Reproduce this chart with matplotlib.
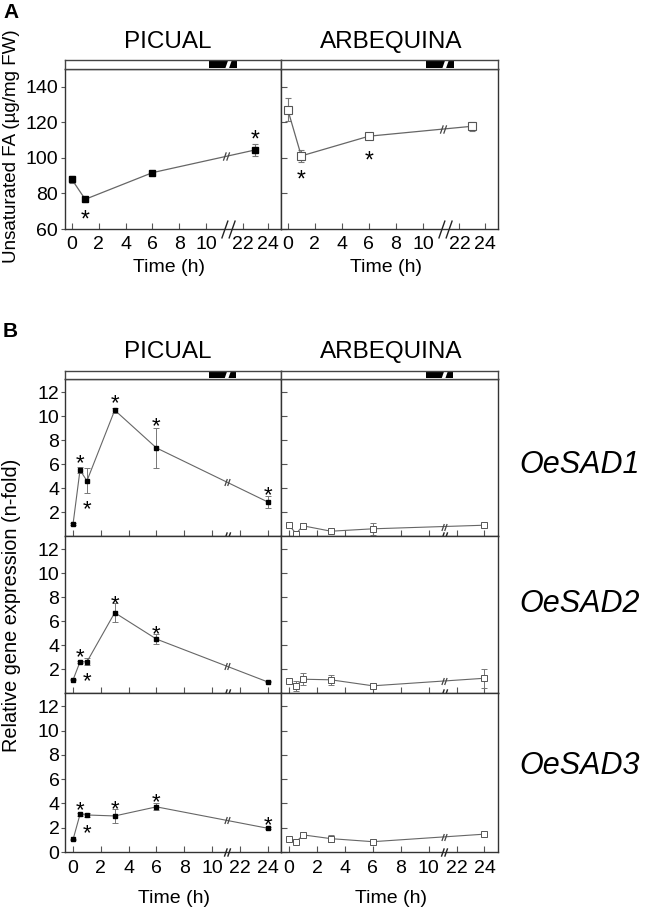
import matplotlib
matplotlib.use('Agg')
import matplotlib.pyplot as plt
import matplotlib.transforms as mtransforms
from matplotlib.path import Path
import numpy as np

plt.rcParams['font.family'] = ['Liberation Sans', 'DejaVu Sans']

W, H = 649, 913
fig = plt.figure(figsize=(W / 100, H / 100), dpi=100)

# ---------------- data ----------------
tick_hours = [0, 2, 4, 6, 8, 10, 22, 24]
cultivars = ['PICUAL', 'ARBEQUINA']

# Panel A: unsaturated fatty acids (ug/mg FW)
a_time = [0, 1, 6, 23]
a_pic = [88.0, 76.7, 91.7, 104.5]
a_pic_err = [2.0, 1.5, 1.0, 3.5]
a_arb = [127.2, 101.1, 112.2, 117.8]
a_arb_err = [6.5, 3.5, 1.0, 2.5]
a_pic_star_idx = [1, 3]
a_pic_star_y = [68.6, 113.7]
a_arb_star_idx = [1, 2]
a_arb_star_y = [91.0, 102.0]
a_yticks = [60, 80, 100, 120, 140]

# Panel B: relative gene expression (n-fold)
b_time = [0, 0.5, 1, 3, 6, 24]
genes = ['OeSAD1', 'OeSAD2', 'OeSAD3']
b_pic = [
    [1.0, 5.5, 4.6, 10.5, 7.35, 2.85],
    [1.1, 2.6, 2.6, 6.7, 4.5, 0.93],
    [1.03, 3.1, 3.05, 2.97, 3.72, 1.96],
]
b_pic_err = [
    [0.05, 0.25, 1.05, 0.2, 1.7, 0.5],
    [0.05, 0.1, 0.3, 0.8, 0.4, 0.05],
    [0.05, 0.1, 0.2, 0.6, 0.3, 0.1],
]
b_arb = [
    [0.9, 0.2, 0.85, 0.4, 0.6, 0.9],
    [1.0, 0.6, 1.15, 1.1, 0.6, 1.23],
    [1.09, 0.82, 1.41, 1.1, 0.85, 1.47],
]
b_arb_err = [
    [0.05, 0.1, 0.15, 0.1, 0.5, 0.1],
    [0.05, 0.4, 0.5, 0.4, 0.05, 0.8],
    [0.05, 0.05, 0.1, 0.3, 0.05, 0.1],
]
b_star_idx = [
    [1, 2, 3, 4, 5],
    [1, 2, 3, 4],
    [1, 2, 3, 4, 5],
]
b_star_y = [
    [6.6, 2.8, 11.6, 9.7, 4.0],
    [3.55, 1.55, 8.0, 5.5],
    [4.0, 2.06, 4.1, 4.65, 2.75],
]
b_yticks = [0, 2, 4, 6, 8, 10, 12]

# ---------------- helpers ----------------
SPINE = '#333333'
LINE = '#666666'
ERR = '#777777'


def rect(l, t, r, b):
    return [l / W, 1 - b / H, (r - l) / W, (b - t) / H]


def xa(t):
    t = np.asarray(t, float)
    return np.where(t <= 11, t, 12.7 + (t - 22) * 0.95)


def xb(t):
    t = np.asarray(t, float)
    return np.where(t <= 11, t, t - 10)


BRK_PATH = Path([(-0.75, -1), (-0.05, 1), (0.05, -1), (0.75, 1)],
                [Path.MOVETO, Path.LINETO, Path.MOVETO, Path.LINETO])


def brk(ax, x, y, size, lw=1.0, color='#222222', transform=None):
    ax.plot([x], [y], marker=BRK_PATH, markersize=size, mew=lw,
            color=color, linestyle='none', clip_on=False, zorder=6,
            transform=transform if transform is not None else ax.transData)


def star(ax, x, y, fs):
    tr = mtransforms.offset_copy(ax.transData, fig=fig, x=0, y=-0.57 * fs,
                                 units='points')
    ax.text(x, y, '*', fontsize=fs, ha='center', va='baseline',
            transform=tr, zorder=7)


def style_axes(ax, xl, ylim, yticks, left_panel, show_xlabels, show_ylabels,
               xmap, tick_fs=14, xpad=4, ypad=2):
    ax.set_xlim(*xl)
    ax.set_ylim(*ylim)
    ax.set_xticks(xmap(tick_hours))
    ax.set_xticklabels([str(h) for h in tick_hours] if show_xlabels else [])
    ax.set_yticks(yticks)
    for s in ax.spines.values():
        s.set_color(SPINE)
        s.set_linewidth(1.0)
    ax.tick_params(axis='x', direction='in', length=4, width=0.8,
                   color='#555555', labelsize=tick_fs, pad=xpad)
    if left_panel:
        ax.tick_params(axis='y', direction='out', length=3, width=0.8,
                       color='#555555', labelsize=tick_fs, pad=ypad)
    else:
        ax.tick_params(axis='y', direction='in', length=4, width=0.8,
                       color='#555555', labelsize=tick_fs, pad=ypad)
    if not show_ylabels:
        ax.set_yticklabels([])


def top_bar(l, t, r, b, xl, dark0, dark1, brkx, size):
    bx = fig.add_axes(rect(l, t, r, b))
    bx.set_xlim(*xl)
    bx.set_ylim(0, 1)
    bx.set_xticks([])
    bx.set_yticks([])
    for s in bx.spines.values():
        s.set_color('#444444')
        s.set_linewidth(1.0)
    bx.axvspan(dark0, dark1, ymin=0.12, ymax=0.88, color='black', lw=0)
    bx.plot([brkx], [0.5], marker=Path([(-0.35, -1), (0.35, 1)],
            [Path.MOVETO, Path.LINETO]), markersize=size, mew=2.5,
            color='white', linestyle='none')
    return bx


def line_break(ax, xs, ys, bx, size):
    xs = np.asarray(xs, float)
    ys = np.asarray(ys, float)
    for i in range(len(xs) - 1):
        if xs[i] < bx < xs[i + 1]:
            f = (bx - xs[i]) / (xs[i + 1] - xs[i])
            y = ys[i] + f * (ys[i + 1] - ys[i])
            brk(ax, bx, y, size, lw=0.9, color='#444444')


TITLE_FS = 17.5

# ---------------- panel A ----------------
A_XL = (-0.5, 15.55)
A_BRK = 11.6
a_cols = [(65, 281), (281, 498)]
a_series = [(a_pic, a_pic_err, a_pic_star_idx, a_pic_star_y, True),
            (a_arb, a_arb_err, a_arb_star_idx, a_arb_star_y, False)]
for k, ((l, r), (vals, errs, sidx, sy, filled)) in enumerate(zip(a_cols, a_series)):
    ax = fig.add_axes(rect(l, 69, r, 229))
    style_axes(ax, A_XL, (60, 150), a_yticks, k == 0, True, k == 0, xa,
               tick_fs=14, xpad=5, ypad=2)
    x = xa(a_time)
    ax.errorbar(x, vals, yerr=errs, fmt='none', ecolor=ERR, elinewidth=0.8,
                capsize=2.5, capthick=0.8, zorder=3)
    if filled:
        ax.plot(x, vals, '-s', color=LINE, lw=0.9, mfc='black', mec='black',
                ms=5.0, zorder=4)
    else:
        ax.plot(x, vals, '-s', color=LINE, lw=0.9, mfc='white', mec='#555555',
                mew=0.8, ms=5.5, zorder=4)
    line_break(ax, x, vals, A_BRK - 0.15, 6)
    for i, yy in zip(sidx, sy):
        star(ax, x[i], yy, 16.5)
    brk(ax, A_BRK, 0, 13, lw=1.0,
        transform=mtransforms.blended_transform_factory(ax.transData, ax.transAxes))
    top_bar(l, 60, r, 69, A_XL, 10.2, 12.3, A_BRK, 9)
    fig.text((l + r) / 2 / W - (5 if k == 0 else -2) / W, 1 - 48 / H, cultivars[k],
             fontsize=TITLE_FS, ha='center', va='baseline')
    fig.text((l + r) / 2 / W - (4 if k == 0 else 3) / W, 1 - 272 / H, 'Time (h)',
             fontsize=14, ha='center', va='baseline')

fig.text(12 / W, 1 - 146 / H, 'Unsaturated FA (µg/mg FW)', fontsize=13.5,
         rotation=90, ha='center', va='center')
fig.text(3 / W, 1 - 18 / H, 'A', fontsize=15, fontweight='bold',
         ha='left', va='baseline')

# ---------------- panel B ----------------
B_XL = (-0.58, 14.97)
B_BRK = 11.1
b_rows = [(379, 536), (536, 693), (693, 852)]
b_cols = [(65, 281), (281, 498)]
gene_baseline = [473, 612, 774]
for g in range(3):
    t, b = b_rows[g]
    for k, (l, r) in enumerate(b_cols):
        ax = fig.add_axes(rect(l, t, r, b))
        last = g == 2
        yt = b_yticks if last else b_yticks[1:]
        style_axes(ax, B_XL, (0, 13.1), yt, k == 0, last, k == 0, xb,
                   tick_fs=14, xpad=6, ypad=1)
        x = xb(b_time)
        if k == 0:
            vals, errs = b_pic[g], b_pic_err[g]
        else:
            vals, errs = b_arb[g], b_arb_err[g]
        ax.errorbar(x, vals, yerr=errs, fmt='none', ecolor=ERR, elinewidth=0.7,
                    capsize=2, capthick=0.7, zorder=3)
        if k == 0:
            ax.plot(x, vals, '-s', color=LINE, lw=0.8, mfc='black', mec='black',
                    ms=3.5, zorder=4)
            for i, yy in zip(b_star_idx[g], b_star_y[g]):
                star(ax, x[i], yy, 16)
        else:
            ax.plot(x, vals, '-s', color=LINE, lw=0.8, mfc='white',
                    mec='#555555', mew=0.7, ms=4, zorder=4)
        line_break(ax, x, vals, B_BRK, 5)
        brk(ax, B_BRK, 0, 6, lw=1.0,
            transform=mtransforms.blended_transform_factory(ax.transData, ax.transAxes))
        if g == 0:
            top_bar(l, 371, r, 379, B_XL, 9.8, 11.75, B_BRK, 8)
            fig.text((l + r) / 2 / W - (5 if k == 0 else -2) / W, 1 - 358 / H,
                     cultivars[k], fontsize=TITLE_FS, ha='center', va='baseline')
        if last:
            fig.text((l + r) / 2 / W + 1 / W, 1 - 903 / H,
                     'Time (h)', fontsize=14, ha='center', va='baseline')
    fig.text(580 / W, 1 - gene_baseline[g] / H, genes[g], fontsize=22,
             style='italic', ha='center', va='baseline')

fig.text(12 / W, 1 - 605 / H, 'Relative gene expression (n-fold)', fontsize=14.3,
         rotation=90, ha='center', va='center')
fig.text(3 / W, 1 - 337 / H, 'B', fontsize=15, fontweight='bold',
         ha='left', va='baseline')

fig.savefig('out.png', dpi=100, facecolor='white')
